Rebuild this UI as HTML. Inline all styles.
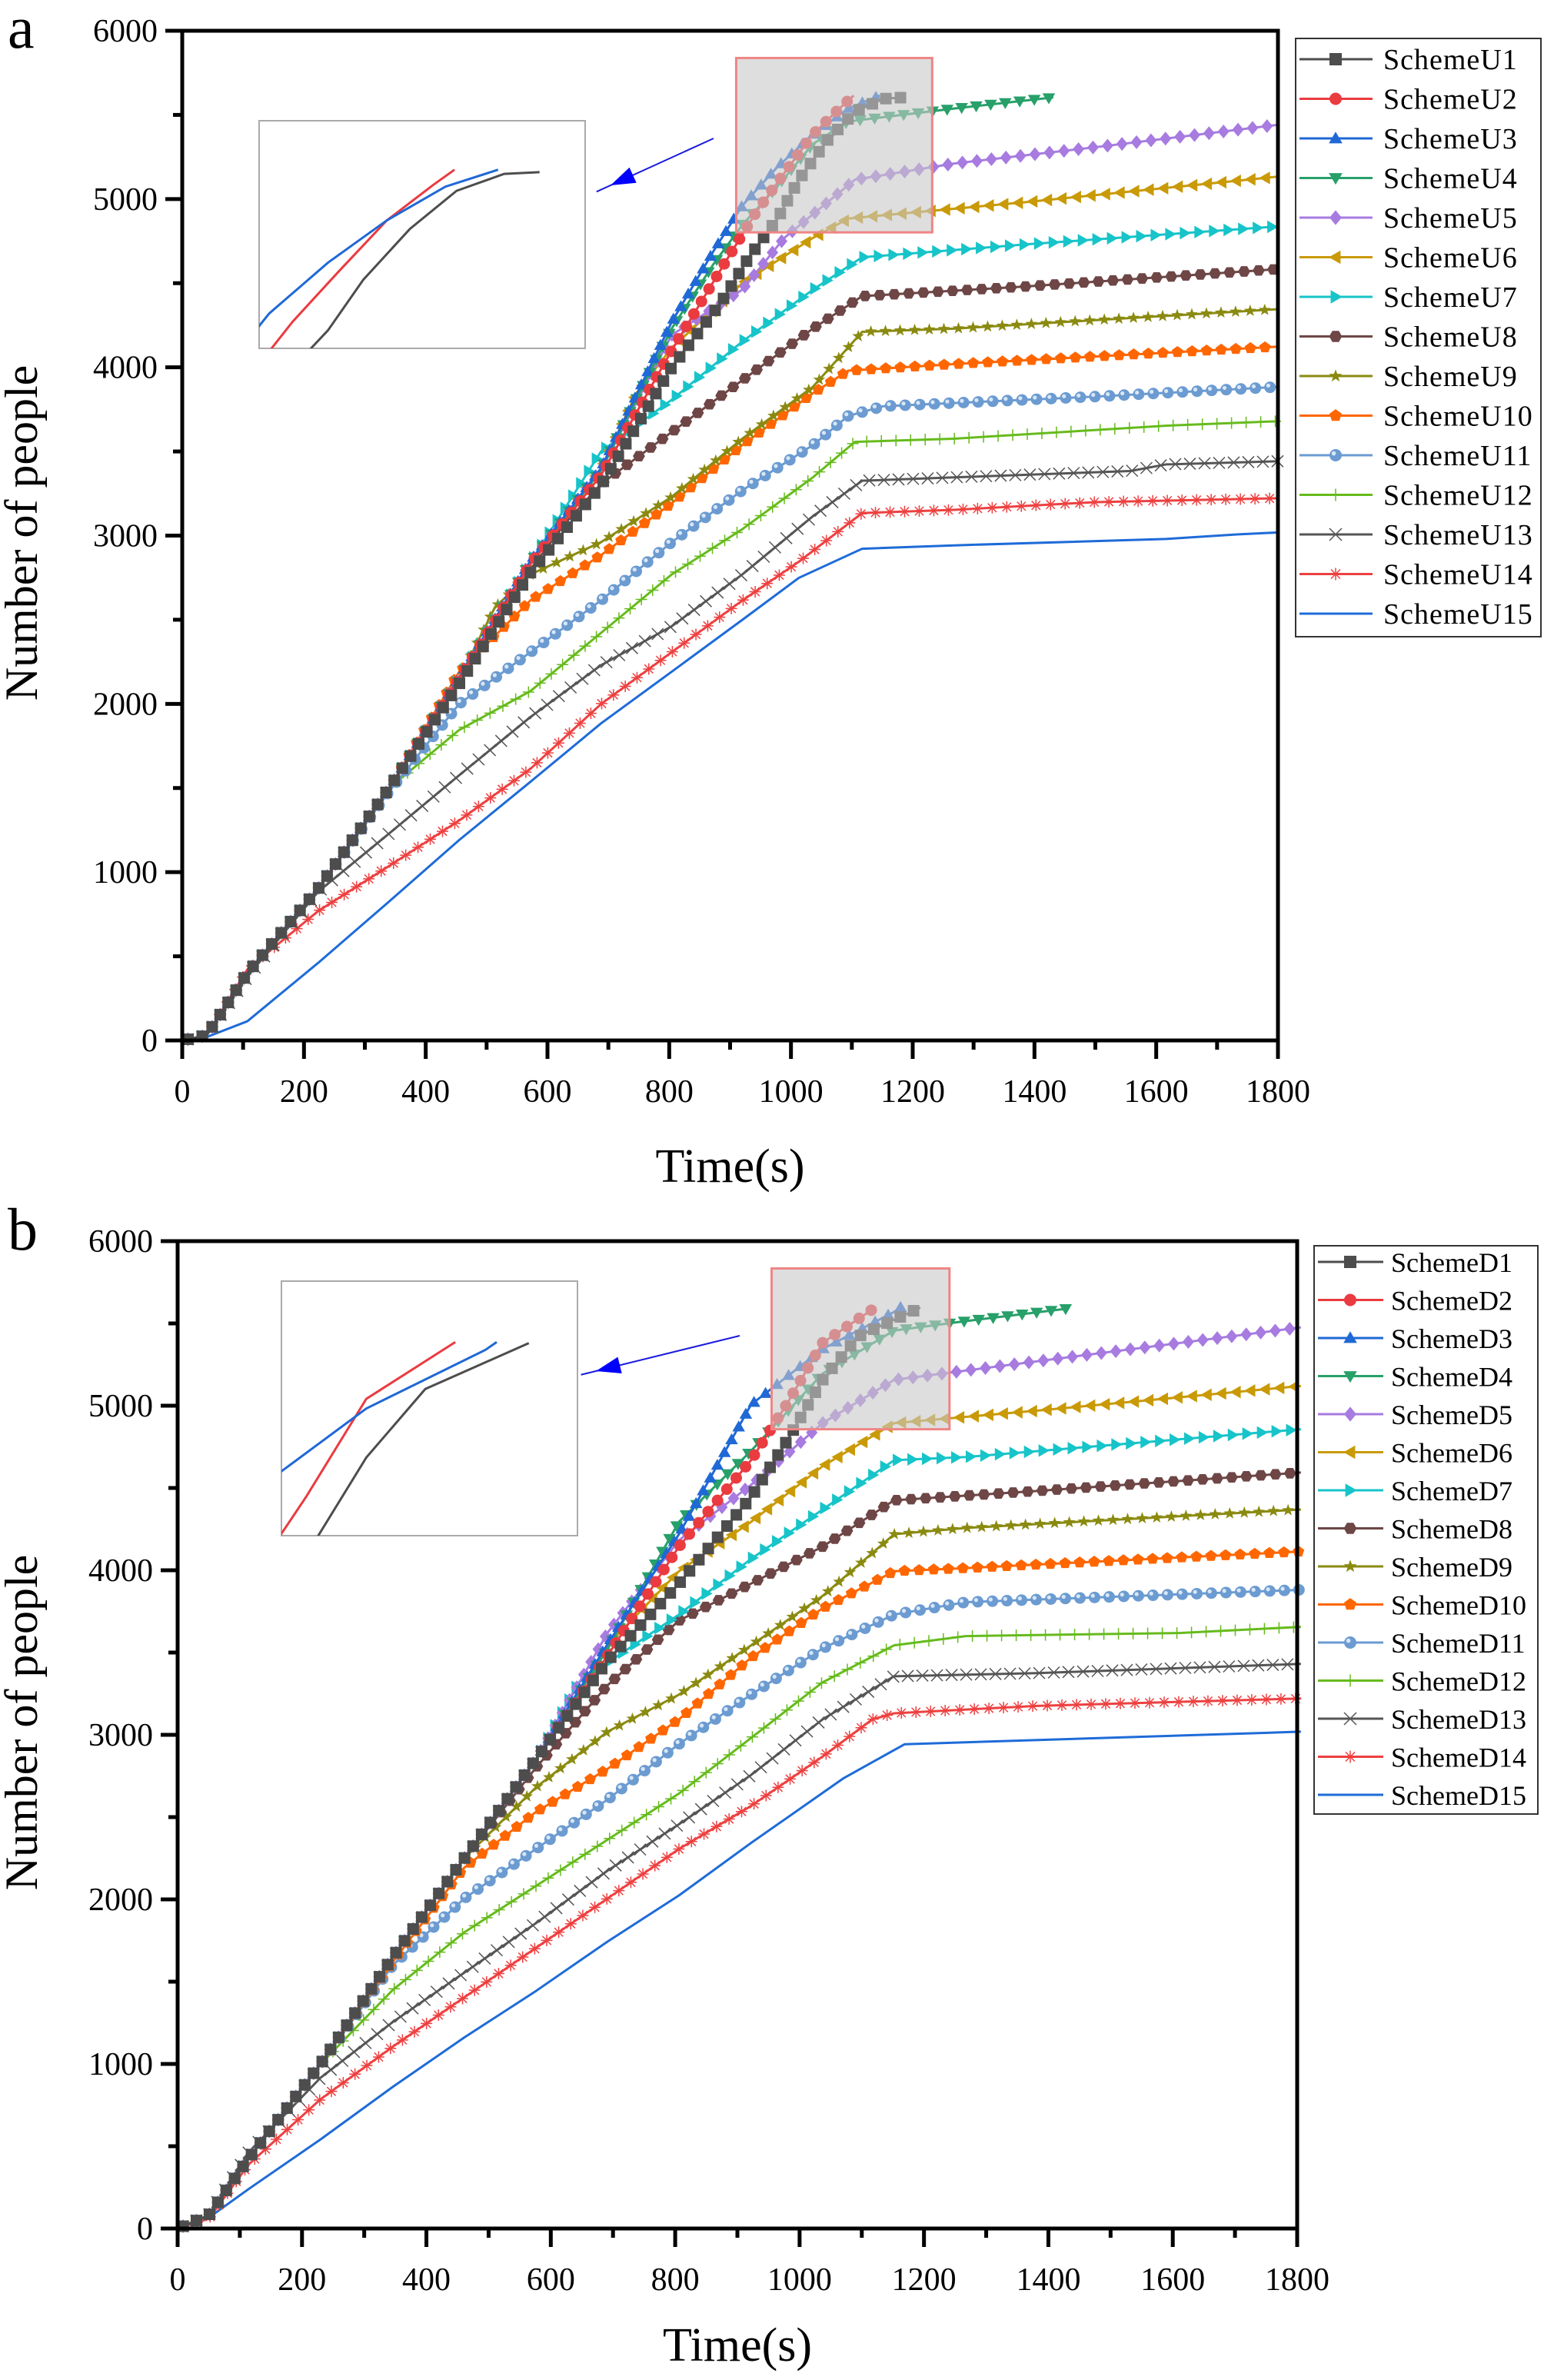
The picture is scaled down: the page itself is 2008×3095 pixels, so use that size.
<!DOCTYPE html>
<html><head><meta charset="utf-8"><style>
html,body{margin:0;padding:0;background:#fff;width:2008px;height:3095px;overflow:hidden}
svg{display:block}
text{font-family:"Liberation Serif","Times New Roman",serif;fill:#000}
</style></head><body>
<svg id="chart" width="2008" height="3095" viewBox="0 0 2008 3095" xmlns="http://www.w3.org/2000/svg"></svg>
<script>
// ---------- DATA ----------
const xTicks = [0,200,400,600,800,1000,1200,1400,1600,1800];
const yTicks = [0,1000,2000,3000,4000,5000,6000];
const namesA = ["SchemeU1","SchemeU2","SchemeU3","SchemeU4","SchemeU5","SchemeU6","SchemeU7","SchemeU8","SchemeU9","SchemeU10","SchemeU11","SchemeU12","SchemeU13","SchemeU14","SchemeU15"];
const namesB = ["SchemeD1","SchemeD2","SchemeD3","SchemeD4","SchemeD5","SchemeD6","SchemeD7","SchemeD8","SchemeD9","SchemeD10","SchemeD11","SchemeD12","SchemeD13","SchemeD14","SchemeD15"];
const timesA = [
 [0,40,107,223,340,455,572,688,804,885,931,978,1013,1059,1105,1152,1187],
 [0,40,107,223,340,455,572,688,804,897,943,989,1036,1082,1103],
 [0,40,107,223,340,455,572,688,804,873,920,978,1036,1094,1146],
 [0,40,107,223,340,455,572,688,804,873,920,978,1036,1094,1268,1431],
 [0,40,107,223,340,455,572,688,804,920,989,1105,1268,1500,1802],
 [0,40,107,223,340,455,572,688,746,804,920,1036,1094,1384,1802],
 [0,40,107,223,340,455,572,688,804,920,1036,1117,1384,1802],
 [0,40,107,223,340,455,572,630,688,804,920,1036,1117,1384,1802],
 [0,40,107,223,340,455,514,572,688,804,920,1036,1117,1268,1802],
 [0,40,107,223,340,455,572,688,804,920,1036,1094,1268,1802],
 [0,40,107,223,340,455,572,688,804,920,1036,1094,1152,1500,1802],
 [0,40,107,223,281,340,455,572,688,804,920,1036,1105,1268,1616,1802],
 [0,40,107,223,340,455,572,688,804,920,1036,1117,1268,1558,1616,1802],
 [0,40,107,223,340,455,572,688,804,920,1013,1117,1268,1500,1802],
 [0,40,107,223,340,455,572,688,804,920,1013,1117,1268,1616,1732,1802]
];
const valuesA = [
 [0,30,400,900,1500,2120,2780,3300,4000,4384,4654,4884,5115,5346,5519,5596,5604],
 [0,30,400,900,1500,2150,2830,3360,4100,4654,4923,5154,5384,5546,5615],
 [0,30,400,900,1500,2160,2850,3400,4269,4692,4961,5192,5384,5538,5615],
 [0,30,400,900,1500,2150,2840,3390,4230,4615,4846,5077,5327,5461,5538,5604],
 [0,30,400,900,1500,2150,2840,3390,4192,4461,4769,5115,5211,5308,5442],
 [0,30,400,900,1500,2150,2840,3400,3846,4115,4500,4769,4884,4981,5134],
 [0,30,400,900,1500,2150,2840,3500,3807,4153,4461,4654,4730,4838],
 [0,30,400,900,1500,2150,2800,3076,3307,3615,3923,4230,4423,4480,4584],
 [0,30,400,900,1500,2150,2576,2769,2961,3230,3576,3884,4211,4230,4346],
 [0,30,400,900,1500,2191,2615,2884,3192,3538,3846,3980,4019,4123],
 [0,30,400,900,1480,2000,2307,2615,2961,3269,3538,3711,3769,3826,3884],
 [0,30,400,900,1191,1499,1845,2076,2422,2769,3038,3346,3557,3576,3653,3680],
 [0,30,380,883,1230,1576,1922,2230,2461,2769,3115,3326,3346,3384,3423,3442],
 [0,30,422,768,1037,1307,1614,1999,2307,2614,2845,3134,3153,3199,3222],
 [0,20,114,460,826,1191,1537,1884,2191,2499,2749,2922,2942,2980,3007,3019]
];
const timesB = [
 [0,50,115,230,346,461,576,691,806,922,979,1037,1094,1194],
 [0,50,115,230,346,461,576,691,806,922,979,1037,1123],
 [0,50,115,230,346,461,576,691,806,922,1037,1152,1163],
 [0,50,115,230,346,461,576,691,806,922,1037,1152,1267,1428],
 [0,50,115,230,346,461,576,691,806,922,1037,1152,1382,1806],
 [0,50,115,230,346,461,576,691,806,922,1037,1152,1382,1806],
 [0,50,115,230,346,461,576,645,806,922,1037,1152,1267,1806],
 [0,50,115,230,346,461,576,691,806,922,1037,1152,1382,1806],
 [0,50,115,230,346,461,576,691,806,922,1037,1152,1267,1806],
 [0,50,115,230,346,461,576,691,806,922,1037,1152,1267,1806],
 [0,50,115,230,346,461,576,691,806,922,1037,1152,1267,1806],
 [0,50,115,230,346,461,576,691,806,922,1037,1152,1267,1613,1806],
 [0,50,115,230,346,461,576,691,806,922,1037,1152,1382,1806],
 [0,50,115,230,346,461,576,691,806,922,1037,1117,1152,1382,1806],
 [0,46,115,230,346,461,576,691,806,922,1071,1169,1806]
];
const valuesB = [
 [0,80,430,1000,1650,2250,2850,3450,3919,4444,4782,5157,5420,5596],
 [0,80,430,1000,1650,2250,2850,3480,4144,4669,5007,5382,5600],
 [0,80,430,1000,1650,2250,2850,3550,4219,5007,5345,5570,5600],
 [0,80,430,1000,1650,2250,2850,3520,4294,4726,5195,5457,5514,5589],
 [0,80,430,1000,1650,2250,2850,3619,4182,4519,4894,5157,5270,5476],
 [0,80,430,1000,1650,2250,2850,3544,3994,4294,4632,4894,4970,5120],
 [0,80,430,1000,1650,2250,2850,3319,3731,4069,4369,4669,4688,4857],
 [0,80,430,1000,1650,2250,2800,3300,3694,3919,4144,4425,4482,4594],
 [0,80,430,1000,1650,2250,2680,3019,3244,3544,3844,4219,4257,4369],
 [0,80,430,1000,1620,2193,2531,2793,3094,3469,3769,3994,4013,4114],
 [0,80,430,1000,1600,2006,2306,2606,2944,3244,3525,3731,3806,3881],
 [0,80,430,1000,1450,1800,2081,2362,2643,2981,3319,3544,3600,3619,3656],
 [0,80,467,917,1255,1555,1855,2174,2456,2756,3094,3356,3375,3431],
 [0,60,392,786,1105,1405,1705,2005,2306,2568,2868,3094,3131,3176,3221],
 [0,55,242,542,861,1161,1443,1743,2024,2343,2737,2943,3019]
];
// ---------- STYLE ----------
const colors = ["#4d4d4d","#ea3b40","#1f68d6","#27a06a","#a77be0","#c99a06","#17c4c9","#6e4646","#8a8a10","#ff6600","#6b9bd1","#66bb1c","#555555","#ee4040","#1e6bd8"];
const markers = ["square","circle","triUp","triDown","diamond","triLeft","triRight","hexagon","star","pentagon","sphere","plus","cross","asterisk","tick"];

const NS="http://www.w3.org/2000/svg";
const svg=document.getElementById('chart');
function mk(tag,attrs,parent){const e=document.createElementNS(NS,tag);for(const k in attrs)e.setAttribute(k,attrs[k]);(parent||svg).appendChild(e);return e;}

function drawMarker(g,type,x,y,c,s){
  let e;
  const r=s/2;
  if(type==="square"){e=mk('rect',{x:x-r,y:y-r,width:s,height:s,fill:c},g);}
  else if(type==="circle"){e=mk('circle',{cx:x,cy:y,r:r,fill:c},g);}
  else if(type==="sphere"){e=mk('circle',{cx:x,cy:y,r:r,fill:c},g);mk('circle',{cx:x-r*0.3,cy:y-r*0.3,r:r*0.35,fill:"#d8e6f5"},g);}
  else if(type==="triUp"){e=mk('polygon',{points:`${x},${y-r*1.1} ${x-r*1.1},${y+r*0.8} ${x+r*1.1},${y+r*0.8}`,fill:c},g);}
  else if(type==="triDown"){e=mk('polygon',{points:`${x},${y+r*1.1} ${x-r*1.1},${y-r*0.8} ${x+r*1.1},${y-r*0.8}`,fill:c},g);}
  else if(type==="triLeft"){e=mk('polygon',{points:`${x-r*1.1},${y} ${x+r*0.8},${y-r*1.1} ${x+r*0.8},${y+r*1.1}`,fill:c},g);}
  else if(type==="triRight"){e=mk('polygon',{points:`${x+r*1.1},${y} ${x-r*0.8},${y-r*1.1} ${x-r*0.8},${y+r*1.1}`,fill:c},g);}
  else if(type==="diamond"){e=mk('polygon',{points:`${x},${y-r*1.2} ${x+r},${y} ${x},${y+r*1.2} ${x-r},${y}`,fill:c},g);}
  else if(type==="hexagon"||type==="pentagon"||type==="star"){
    const n=type==="hexagon"?6:5;let pts=[];
    if(type==="star"){for(let i=0;i<10;i++){const a=-Math.PI/2+i*Math.PI/5;const rr=i%2?r*0.45:r*1.1;pts.push((x+rr*Math.cos(a))+","+(y+rr*Math.sin(a)));}}
    else{const off=type==="hexagon"?0:-Math.PI/2;for(let i=0;i<n;i++){const a=off+i*2*Math.PI/n;pts.push((x+r*1.05*Math.cos(a))+","+(y+r*1.05*Math.sin(a)));}}
    e=mk('polygon',{points:pts.join(' '),fill:c},g);}
  else if(type==="plus"){e=mk('path',{d:`M${x-r} ${y}H${x+r}M${x} ${y-r}V${y+r}`,stroke:c,'stroke-width':1.5,fill:'none'},g);}
  else if(type==="cross"){e=mk('path',{d:`M${x-r} ${y-r}L${x+r} ${y+r}M${x-r} ${y+r}L${x+r} ${y-r}`,stroke:c,'stroke-width':1.5,fill:'none'},g);}
  else if(type==="asterisk"){e=mk('path',{d:`M${x-r} ${y}H${x+r}M${x} ${y-r}V${y+r}M${x-r*0.75} ${y-r*0.75}L${x+r*0.75} ${y+r*0.75}M${x-r*0.75} ${y+r*0.75}L${x+r*0.75} ${y-r*0.75}`,stroke:c,'stroke-width':1.5,fill:'none'},g);}
  else {return null;}
  return e;
}

function drawPanel(P){
  const sx=t=>P.x0+(t/1800)*(P.x1-P.x0);
  const sy=v=>P.y0-(v/6000)*(P.y0-P.y1);
  const panel=mk('g',{});
  
  
  for(let s=P.names.length-1;s>=0;s--){
    const g=mk('g',{},panel);
    
    
    const pts=P.times[s].map((t,i)=>[sx(t),sy(P.values[s][i])]);
    const line=mk('polyline',{points:pts.map(p=>p.join(',')).join(' '),fill:'none',stroke:colors[s],'stroke-width':3,'stroke-linejoin':'round'},g);
    
    
    const sp=P.spacing;let acc=sp*0.6;
    for(let i=1;i<pts.length;i++){
      const [ax,ay]=pts[i-1],[bx,by]=pts[i];const L=Math.hypot(bx-ax,by-ay);let d=sp-acc;
      while(d<=L){const m=drawMarker(g,markers[s],ax+(bx-ax)*d/L,ay+(by-ay)*d/L,colors[s],markers[s]==="tick"?0:P.msize);
        if(m){}
        d+=sp;}
      acc=(acc+L)%sp;
    }
  }
  const zr=mk('rect',{x:sx(P.zt0),y:sy(P.zv1),width:sx(P.zt1)-sx(P.zt0),height:sy(P.zv0)-sy(P.zv1),fill:'rgba(200,200,200,0.6)',stroke:'#ef8585','stroke-width':3},panel);
  
  
  const ig=mk('g',{},panel);
  
  
  const cid='clip'+P.id;
  const cp=mk('clipPath',{id:cid},ig);mk('rect',{x:P.ix0,y:P.iy0,width:P.ix1-P.ix0,height:P.iy1-P.iy0},cp);
  mk('rect',{x:P.ix0,y:P.iy0,width:P.ix1-P.ix0,height:P.iy1-P.iy0,fill:'#fff',stroke:'#aaa','stroke-width':2},ig);
  const ix=t=>P.ix0+(t-P.zt0)/(P.zt1-P.zt0)*(P.ix1-P.ix0);
  const iy=v=>P.iy1-(v-P.zv0)/(P.zv1-P.zv0)*(P.iy1-P.iy0);
  for(let s=0;s<3;s++){
    const pl=mk('polyline',{points:P.times[s].map((t,i)=>ix(t)+','+iy(P.values[s][i])).join(' '),fill:'none',stroke:colors[s],'stroke-width':3,'clip-path':`url(#${cid})`},ig);
    
    
  }
  const ag=mk('g',{},panel);
  
  
  const [ax,ay,bx,by]=P.arrow;const ang=Math.atan2(by-ay,bx-ax);
  mk('line',{x1:ax,y1:ay,x2:bx+20*Math.cos(ang),y2:by+20*Math.sin(ang),stroke:'#1a1ae0','stroke-width':2},ag);
  const hl=32,hw=11;
  const p1=[bx-hl*Math.cos(ang)+hw*Math.sin(ang),by-hl*Math.sin(ang)-hw*Math.cos(ang)];
  const p2=[bx-hl*Math.cos(ang)-hw*Math.sin(ang),by-hl*Math.sin(ang)+hw*Math.cos(ang)];
  mk('polygon',{points:`${bx},${by} ${p1} ${p2}`,fill:'#0000ff'},ag);
  const ax_=mk('g',{},panel);
  
  
  mk('rect',{x:P.x0,y:P.y1,width:P.x1-P.x0,height:P.y0-P.y1,fill:'none',stroke:'#000','stroke-width':5},ax_);
  for(let v=0;v<=6000;v+=500){const maj=v%1000===0;mk('line',{x1:P.x0,x2:P.x0-(maj?22:12),y1:sy(v),y2:sy(v),stroke:'#000','stroke-width':5},ax_);}
  for(let t=0;t<=1800;t+=100){const maj=t%200===0;mk('line',{x1:sx(t),x2:sx(t),y1:P.y0,y2:P.y0+(maj?24:12),stroke:'#000','stroke-width':5},ax_);}
  yTicks.forEach(v=>{const t=mk('text',{x:P.x0-32,y:sy(v)+14,'text-anchor':'end','font-size':42},ax_);t.textContent=v;
    });
  xTicks.forEach(v=>{const t=mk('text',{x:sx(v),y:P.y0+80,'text-anchor':'middle','font-size':42},ax_);t.textContent=v;
    });
  const yt=mk('text',{x:0,y:0,'text-anchor':'middle','font-size':60,transform:`translate(${P.ytx},${P.yty}) rotate(-90)`},panel);
  yt.textContent='Number of people';
  
  const xt=mk('text',{x:(P.x0+P.x1)/2,y:P.xty,'text-anchor':'middle','font-size':62},panel);
  xt.textContent='Time(s)';
  
  const lt=mk('text',{x:10,y:P.lety,'font-size':78},panel);
  lt.textContent=P.id;
  
  const lg=mk('g',{},panel);
  
  
  mk('rect',{x:P.lx0,y:P.ly0,width:P.lx1-P.lx0,height:P.ly1-P.ly0,fill:'#fff',stroke:'#333','stroke-width':2},lg);
  P.names.forEach((n,i)=>{
    const y=P.lr0+i*P.lrs;
    const e=mk('g',{},lg);
    
    
    mk('line',{x1:P.lx0+5,x2:P.lx0+P.lline,y1:y,y2:y,stroke:colors[i],'stroke-width':3},e);
    drawMarker(e,markers[i],P.lx0+P.lline/2+2,y,colors[i],16);
    const t=mk('text',{x:P.lx0+P.ltx,y:y+13,'font-size':P.lfs,'letter-spacing':P.lls},e);
    t.textContent=n;
  });
}

drawPanel({id:'a',names:namesA,times:timesA,values:valuesA,x0:237,x1:1662,y0:1353,y1:40,
  spacing:19,msize:15,zt0:910,zt1:1232,zv0:4802,zv1:5838,ix0:337,ix1:761,iy0:157,iy1:453,
  arrow:[928,180,794,241],ytx:48,yty:693,xty:1537,lety:62,
  lx0:1685,lx1:2004,ly0:50,ly1:828,lr0:77,lrs:51.5,lline:100,ltx:114,lfs:38,lls:1});
drawPanel({id:'b',names:namesB,times:timesB,values:valuesB,x0:231,x1:1687,y0:2898,y1:1614,
  spacing:19,msize:15,zt0:955,zt1:1241,zv0:4857,zv1:5834,ix0:366,ix1:751,iy0:1666,iy1:1997,
  arrow:[962,1737,775,1783],ytx:48,yty:2240,xty:3070,lety:1625,
  lx0:1709,lx1:2000,ly0:1620,ly1:2359,lr0:1641,lrs:49.5,lline:90,ltx:100,lfs:36,lls:0});
</script>
</body></html>
